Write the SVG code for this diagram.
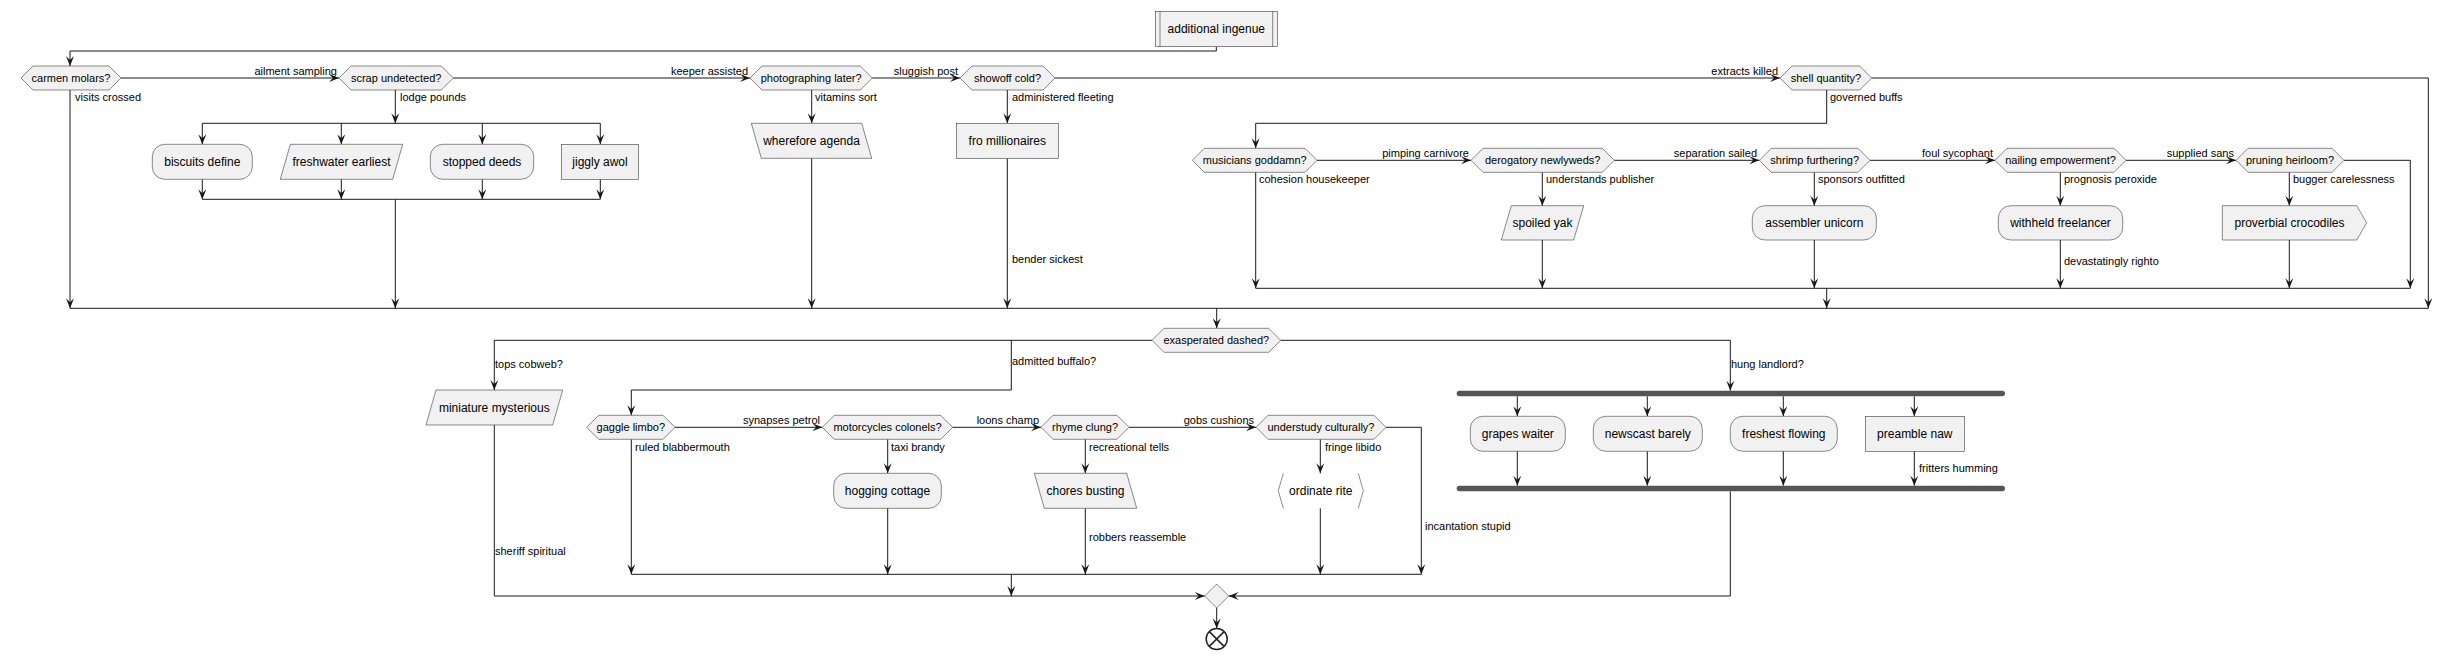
<svg xmlns="http://www.w3.org/2000/svg" width="2453" height="658" viewBox="0 0 2453 658">
<style>
.n{fill:#F1F1F1;stroke:#181818;stroke-width:0.5}
.l{fill:none;stroke:#181818;stroke-width:1}
.la{fill:none;stroke:#181818;stroke-width:1;marker-end:url(#ah)}
.bar{fill:#555555;stroke:none}
text{font-family:"Liberation Sans",Arial,sans-serif;fill:#000}
.t{font-size:12px;text-anchor:middle}
.d{font-size:11px;text-anchor:middle}
.a{font-size:11px}
.e{font-size:11px;text-anchor:end}
</style>
<defs>
<marker id="ah" viewBox="-11 -5 12 10" refX="0" refY="0" markerWidth="12" markerHeight="10" markerUnits="userSpaceOnUse" orient="auto">
<path d="M0,0 L-10,-4 L-6,0 L-10,4 Z" fill="#181818"/>
</marker>
</defs>
<rect width="2453" height="658" fill="#FFFFFF"/>

<g id="connectors">
<path class="la" d="M1216.3,46.7 V51 H70 V66"/>
<path class="la" d="M121,78 H339"/>
<path class="la" d="M453.3,78 H750"/>
<path class="la" d="M872.3,78 H960"/>
<path class="la" d="M1055,78 H1780"/>
<path class="la" d="M1871.7,78 H2428.3 V308.3"/>
<path class="la" d="M70,90 V308.3"/>
<path class="la" d="M395.3,90 V123.3"/>
<path class="l" d="M202.3,123.3 H600.3"/>
<path class="la" d="M202.3,123.3 V144.3"/>
<path class="la" d="M341.3,123.3 V144.3"/>
<path class="la" d="M482.3,123.3 V144.3"/>
<path class="la" d="M600.3,123.3 V144.3"/>
<path class="la" d="M202.3,179.3 V199.3"/>
<path class="la" d="M341.3,179.3 V199.3"/>
<path class="la" d="M482.3,179.3 V199.3"/>
<path class="la" d="M600.3,179.3 V199.3"/>
<path class="l" d="M202.3,199.3 H600.3"/>
<path class="la" d="M395.3,199.3 V308.3"/>
<path class="la" d="M811.7,90 V123.3"/>
<path class="la" d="M811.7,158.3 V308.3"/>
<path class="la" d="M1007.3,90 V123.3"/>
<path class="la" d="M1007.3,158.3 V308.3"/>
<path class="la" d="M1826.7,90 V123.3 H1255.7 V148.3"/>
<path class="la" d="M1317,160.3 H1471"/>
<path class="la" d="M1614.3,160.3 H1759.3"/>
<path class="la" d="M1870,160.3 H1995"/>
<path class="la" d="M2126,160.3 H2236"/>
<path class="la" d="M2344,160.3 H2410.3 V288.3"/>
<path class="la" d="M1255.7,172.3 V288.3"/>
<path class="la" d="M1542.3,172.3 V205.7"/>
<path class="la" d="M1542.3,240 V288.3"/>
<path class="la" d="M1814.3,172.3 V205.7"/>
<path class="la" d="M1814.3,240 V288.3"/>
<path class="la" d="M2060.3,172.3 V205.7"/>
<path class="la" d="M2060.3,240 V288.3"/>
<path class="la" d="M2289.3,172.3 V205.7"/>
<path class="la" d="M2289.3,240 V288.3"/>
<path class="l" d="M1255.7,288.3 H2410.3"/>
<path class="la" d="M1826.7,288.3 V308.3"/>
<path class="l" d="M70,308.3 H2428.3"/>
<path class="la" d="M1216.7,308.3 V328.3"/>
<path class="la" d="M1152,340.3 H494.3 V390"/>
<path class="la" d="M1011.3,340.3 V390 H631.3 V415.3"/>
<path class="la" d="M1280.7,340.3 H1730.3 V390.7"/>
<path class="la" d="M1517.3,396.3 V416.3"/>
<path class="la" d="M1647.3,396.3 V416.3"/>
<path class="la" d="M1783.3,396.3 V416.3"/>
<path class="la" d="M1914.3,396.3 V416.3"/>
<path class="la" d="M1517.3,451.3 V485.7"/>
<path class="la" d="M1647.3,451.3 V485.7"/>
<path class="la" d="M1783.3,451.3 V485.7"/>
<path class="la" d="M1914.3,451.3 V485.7"/>
<path class="la" d="M1730.3,491.3 V596 H1228.7"/>
<path class="la" d="M494.3,425 V596 H1204.7"/>
<path class="la" d="M675,427.3 H822.3"/>
<path class="la" d="M952.7,427.3 H1041"/>
<path class="la" d="M1129,427.3 H1256"/>
<path class="la" d="M1386,427.3 H1421.3 V574.3"/>
<path class="la" d="M631.3,439.3 V574.3"/>
<path class="la" d="M887.7,439.3 V473.3"/>
<path class="la" d="M887.7,508.3 V574.3"/>
<path class="la" d="M1085.3,439.3 V473.3"/>
<path class="la" d="M1085.3,508.3 V574.3"/>
<path class="la" d="M1320.3,439.3 V473.3"/>
<path class="la" d="M1320.3,508.3 V574.3"/>
<path class="l" d="M631.3,574.3 H1421.3"/>
<path class="la" d="M1011.3,574.3 V596"/>
<path class="la" d="M1216.7,608 V628.5"/>
<text class="e" x="337" y="75">ailment sampling</text>
<text class="e" x="748" y="75">keeper assisted</text>
<text class="e" x="958" y="75">sluggish post</text>
<text class="e" x="1778" y="75">extracts killed</text>
<text class="a" x="75" y="101">visits crossed</text>
<text class="a" x="400" y="101">lodge pounds</text>
<text class="a" x="815" y="101">vitamins sort</text>
<text class="a" x="1012" y="101">administered fleeting</text>
<text class="a" x="1012" y="263">bender sickest</text>
<text class="a" x="1830" y="101">governed buffs</text>
<text class="e" x="1469" y="157">pimping carnivore</text>
<text class="e" x="1757" y="157">separation sailed</text>
<text class="e" x="1993" y="157">foul sycophant</text>
<text class="e" x="2234" y="157">supplied sans</text>
<text class="a" x="1259" y="183">cohesion housekeeper</text>
<text class="a" x="1546" y="183">understands publisher</text>
<text class="a" x="1818" y="183">sponsors outfitted</text>
<text class="a" x="2064" y="183">prognosis peroxide</text>
<text class="a" x="2064" y="265">devastatingly righto</text>
<text class="a" x="2293" y="183">bugger carelessness</text>
<text class="a" x="495" y="368">tops cobweb?</text>
<text class="a" x="1012" y="365">admitted buffalo?</text>
<text class="a" x="1731" y="368">hung landlord?</text>
<text class="a" x="1919" y="472">fritters humming</text>
<text class="a" x="495" y="555">sheriff spiritual</text>
<text class="e" x="820" y="424">synapses petrol</text>
<text class="e" x="1039" y="424">loons champ</text>
<text class="e" x="1254" y="424">gobs cushions</text>
<text class="a" x="1425" y="530">incantation stupid</text>
<text class="a" x="635" y="451">ruled blabbermouth</text>
<text class="a" x="891" y="451">taxi brandy</text>
<text class="a" x="1089" y="451">recreational tells</text>
<text class="a" x="1089" y="541">robbers reassemble</text>
<text class="a" x="1325" y="451">fringe libido</text>
</g>

<g id="start">
<rect class="n" x="1155.3" y="11.3" width="122" height="35.4"/>
<path class="l" d="M1160,11.3 V46.7 M1272.7,11.3 V46.7" style="stroke-width:0.5"/>
<text class="t" x="1216.3" y="32.5">additional ingenue</text>
</g>

<g id="carmen"><polygon class="n" points="21,78 33,66 109,66 121,78 109,90 33,90"/><text class="d" x="71" y="82">carmen molars?</text></g>
<g id="scrap"><polygon class="n" points="339,78 351,66 441.3,66 453.3,78 441.3,90 351,90"/><text class="d" x="396.2" y="82">scrap undetected?</text></g>
<g id="photographing"><polygon class="n" points="750,78 762,66 860.3,66 872.3,78 860.3,90 762,90"/><text class="d" x="811.2" y="82">photographing later?</text></g>
<g id="showoff"><polygon class="n" points="960,78 972,66 1043,66 1055,78 1043,90 972,90"/><text class="d" x="1007.5" y="82">showoff cold?</text></g>
<g id="shell"><polygon class="n" points="1780,78 1792,66 1859.7,66 1871.7,78 1859.7,90 1792,90"/><text class="d" x="1825.9" y="82">shell quantity?</text></g>

<g id="biscuits"><rect class="n" x="152.3" y="144.3" width="100" height="35" rx="12.5"/><text class="t" x="202.3" y="166">biscuits define</text></g>
<g id="freshwater"><polygon class="n" points="290.3,144.3 402.7,144.3 392.7,179.3 280.3,179.3"/><text class="t" x="341.5" y="166">freshwater earliest</text></g>
<g id="stopped"><rect class="n" x="430.3" y="144.3" width="103.4" height="35" rx="12.5"/><text class="t" x="482" y="166">stopped deeds</text></g>
<g id="jiggly"><rect class="n" x="561.3" y="144.3" width="77.4" height="35"/><text class="t" x="600" y="166">jiggly awol</text></g>
<g id="wherefore"><polygon class="n" points="751.3,123.3 861.7,123.3 871.7,158.3 761.3,158.3"/><text class="t" x="811.5" y="145">wherefore agenda</text></g>
<g id="fro"><rect class="n" x="956.3" y="123.3" width="102" height="35"/><text class="t" x="1007.3" y="145">fro millionaires</text></g>

<g id="musicians"><polygon class="n" points="1192.3,160.3 1204.3,148.3 1305,148.3 1317,160.3 1305,172.3 1204.3,172.3"/><text class="d" x="1254.7" y="164.3">musicians goddamn?</text></g>
<g id="derogatory"><polygon class="n" points="1471,160.3 1483,148.3 1602.3,148.3 1614.3,160.3 1602.3,172.3 1483,172.3"/><text class="d" x="1542.7" y="164.3">derogatory newlyweds?</text></g>
<g id="shrimp"><polygon class="n" points="1759.3,160.3 1771.3,148.3 1858,148.3 1870,160.3 1858,172.3 1771.3,172.3"/><text class="d" x="1814.7" y="164.3">shrimp furthering?</text></g>
<g id="nailing"><polygon class="n" points="1995,160.3 2007,148.3 2114,148.3 2126,160.3 2114,172.3 2007,172.3"/><text class="d" x="2060.5" y="164.3">nailing empowerment?</text></g>
<g id="pruning"><polygon class="n" points="2236,160.3 2248,148.3 2332,148.3 2344,160.3 2332,172.3 2248,172.3"/><text class="d" x="2290" y="164.3">pruning heirloom?</text></g>

<g id="spoiled"><polygon class="n" points="1511.3,205.7 1583.7,205.7 1573.7,240 1501.3,240"/><text class="t" x="1542.5" y="227">spoiled yak</text></g>
<g id="assembler"><rect class="n" x="1752.3" y="205.7" width="124" height="34.3" rx="12.5"/><text class="t" x="1814.3" y="227">assembler unicorn</text></g>
<g id="withheld"><rect class="n" x="1998.3" y="205.7" width="124.4" height="34.3" rx="12.5"/><text class="t" x="2060.5" y="227">withheld freelancer</text></g>
<g id="proverbial"><polygon class="n" points="2222.3,205.7 2356.7,205.7 2366.7,222.85 2356.7,240 2222.3,240"/><text class="t" x="2289.5" y="227">proverbial crocodiles</text></g>

<g id="exasperated"><polygon class="n" points="1152,340.3 1164,328.3 1268.7,328.3 1280.7,340.3 1268.7,352.3 1164,352.3"/><text class="d" x="1216.3" y="344.3">exasperated dashed?</text></g>
<g id="miniature"><polygon class="n" points="436,390 562.7,390 552.7,425 426,425"/><text class="t" x="494.3" y="411.5">miniature mysterious</text></g>

<g id="gaggle"><polygon class="n" points="586.7,427.3 598.7,415.3 663,415.3 675,427.3 663,439.3 598.7,439.3"/><text class="d" x="630.8" y="431.3">gaggle limbo?</text></g>
<g id="motorcycles"><polygon class="n" points="822.3,427.3 834.3,415.3 940.7,415.3 952.7,427.3 940.7,439.3 834.3,439.3"/><text class="d" x="887.5" y="431.3">motorcycles colonels?</text></g>
<g id="rhyme"><polygon class="n" points="1041,427.3 1053,415.3 1117,415.3 1129,427.3 1117,439.3 1053,439.3"/><text class="d" x="1085" y="431.3">rhyme clung?</text></g>
<g id="understudy"><polygon class="n" points="1256,427.3 1268,415.3 1374,415.3 1386,427.3 1374,439.3 1268,439.3"/><text class="d" x="1321" y="431.3">understudy culturally?</text></g>

<g id="hogging"><rect class="n" x="833.7" y="473.3" width="107.6" height="35" rx="12.5"/><text class="t" x="887.5" y="495">hogging cottage</text></g>
<g id="chores"><polygon class="n" points="1034.3,473.3 1126.7,473.3 1136.7,508.3 1044.3,508.3"/><text class="t" x="1085.5" y="495">chores busting</text></g>
<g id="ordinate"><path d="M1283.3,473.3 L1278.3,490.8 L1283.3,508.3 M1358.3,473.3 L1363.3,490.8 L1358.3,508.3" fill="none" stroke="#181818" stroke-width="0.5"/><text class="t" x="1320.8" y="495">ordinate rite</text></g>

<g id="fork"><rect class="bar" x="1456.7" y="390.7" width="548.3" height="5.6" rx="2.8"/></g>
<g id="grapes"><rect class="n" x="1470.3" y="416.3" width="95" height="35" rx="12.5"/><text class="t" x="1517.8" y="438">grapes waiter</text></g>
<g id="newscast"><rect class="n" x="1593.3" y="416.3" width="109" height="35" rx="12.5"/><text class="t" x="1647.8" y="438">newscast barely</text></g>
<g id="freshest"><rect class="n" x="1730.3" y="416.3" width="107" height="35" rx="12.5"/><text class="t" x="1783.8" y="438">freshest flowing</text></g>
<g id="preamble"><rect class="n" x="1865.3" y="416.3" width="99" height="35"/><text class="t" x="1914.8" y="438">preamble naw</text></g>
<g id="join"><rect class="bar" x="1456.7" y="485.7" width="548.3" height="5.6" rx="2.8"/></g>

<g id="merge"><polygon class="n" points="1216.7,584 1228.7,596 1216.7,608 1204.7,596"/></g>
<g id="end"><circle cx="1216.7" cy="639" r="10.5" fill="#FFFFFF" stroke="#222222" stroke-width="1.5"/><path d="M1209.3,631.6 L1224.1,646.4 M1224.1,631.6 L1209.3,646.4" stroke="#222222" stroke-width="1.5"/></g>
</svg>
